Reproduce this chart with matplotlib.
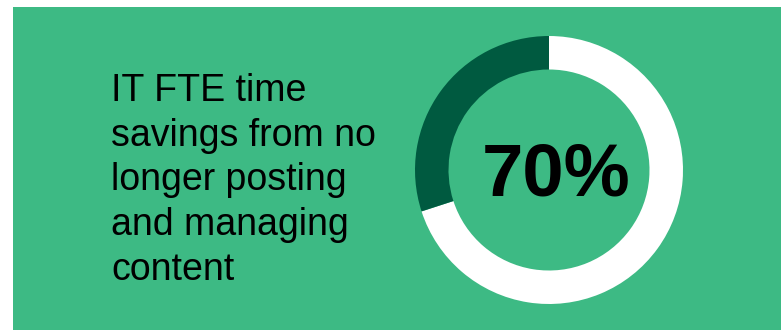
import matplotlib
matplotlib.use("Agg")
import matplotlib.pyplot as plt
from matplotlib.patches import Rectangle

# Data
value_pct = 70
segments = [value_pct, 100 - value_pct]
segment_colors = ["#FFFFFF", "#005A40"]
label_text = "IT FTE time\nsavings from no\nlonger posting\nand managing\ncontent"
center_text = f"{value_pct}%"

W, H = 781, 330
fig = plt.figure(figsize=(W / 100, H / 100), dpi=100)
fig.patch.set_facecolor("white")

# green background panel
fig.patches.append(Rectangle((13 / W, 0), 1 - 13 / W, 1 - 7 / H,
                             transform=fig.transFigure, facecolor="#3DBA84",
                             edgecolor="none", zorder=-10))

# donut
cx, cy, r = 549, 170, 134
ax = fig.add_axes([(cx - r) / W, (H - cy - r) / H, 2 * r / W, 2 * r / H])
ax.set_zorder(5)
ax.pie(segments, colors=segment_colors, startangle=90, counterclock=False,
       radius=1, wedgeprops=dict(width=0.25, edgecolor="none"))
ax.set_xlim(-1, 1)
ax.set_ylim(-1, 1)
ax.set_aspect("equal")
ax.axis("off")
ax.patch.set_alpha(0)

ax.text(0.05, -0.19, center_text, ha="center", va="baseline", fontsize=53.5,
        fontweight="bold", family="Liberation Sans", color="black")

fig.text(111 / W, 1 - 73 / H, label_text, ha="left", va="top", fontsize=27,
         family="Liberation Sans", color="black", linespacing=1.31)

fig.savefig("out.png", dpi=100, facecolor=fig.get_facecolor())
